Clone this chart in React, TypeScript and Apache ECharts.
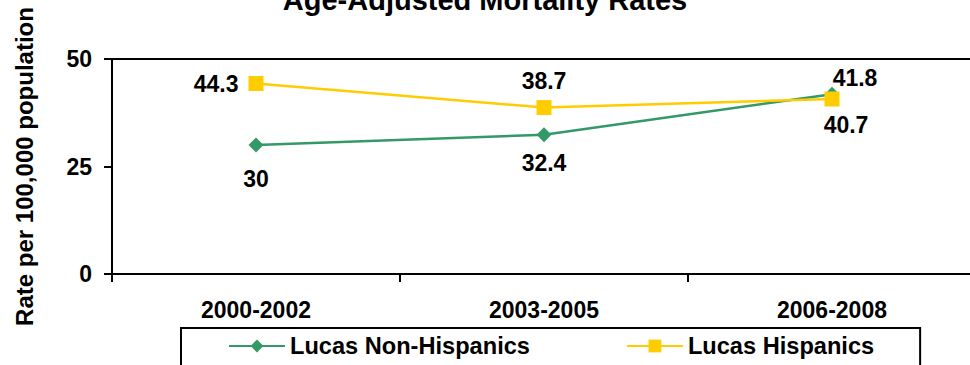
import React, { useEffect, useRef } from "react";
import * as echarts from "echarts";

const categories = ["2000-2002", "2003-2005", "2006-2008"];
const nonHispanics = [30, 32.4, 41.8];
const hispanics = [44.3, 38.7, 40.7];
const yTicks = { min: 0, max: 50, interval: 25 };

const FONT = "'Liberation Sans', Arial, sans-serif";

export default function App() {
  const ref = useRef<HTMLDivElement>(null);
  useEffect(() => {
    document.body.style.margin = "0";
    const chart = echarts.init(ref.current!, null, { renderer: "svg" });
    const labelBase = {
      show: true,
      fontFamily: FONT,
      fontWeight: "bold",
      fontSize: 23,
      color: "#000",
    };
    const nhLabels = [
      { position: "bottom", distance: 15, offset: [0, 0] },
      { position: "bottom", distance: 9, offset: [0, 0] },
      { position: "top", distance: -3, offset: [23, 0] },
    ];
    const hLabels = [
      { position: "left", distance: 10, offset: [0, 0] },
      { position: "top", distance: 8, offset: [0, 0] },
      { position: "bottom", distance: 7, offset: [14, 0] },
    ];
    chart.setOption({
      animation: false,
      textStyle: { fontFamily: FONT },
      title: {
        text: "Age-Adjusted Mortality Rates",
        left: "center",
        top: -15,
        padding: 0,
        textStyle: { fontFamily: FONT, fontWeight: "bold", fontSize: 29, color: "#000" },
      },
      grid: {
        left: 112,
        top: 59,
        right: -6,
        bottom: 91,
        show: true,
        borderColor: "#000",
        borderWidth: 2,
        outerBoundsMode: "none",
        containLabel: false,
      },
      legend: {
        left: 181,
        top: 328,
        padding: [6, 46, 12, 47],
        itemGap: 96,
        itemWidth: 56,
        itemHeight: 16,
        borderColor: "#000",
        borderWidth: 2,
        textStyle: { fontFamily: FONT, fontWeight: "bold", fontSize: 23.6, color: "#000" },
        data: ["Lucas Non-Hispanics", "Lucas Hispanics"],
      },
      xAxis: {
        type: "category",
        data: categories,
        boundaryGap: true,
        axisLine: { lineStyle: { color: "#000", width: 2 } },
        axisTick: { show: true, length: 8, lineStyle: { color: "#000", width: 2 } },
        axisLabel: { margin: 24, fontFamily: FONT, fontWeight: "bold", fontSize: 23, color: "#000" },
        splitLine: { show: false },
      },
      yAxis: {
        type: "value",
        min: yTicks.min,
        max: yTicks.max,
        interval: yTicks.interval,
        name: "Rate per 100,000 population",
        nameLocation: "middle",
        nameGap: 76,
        nameRotate: 90,
        nameTextStyle: { fontFamily: FONT, fontWeight: "bold", fontSize: 24, color: "#000" },
        axisLine: { show: true, lineStyle: { color: "#000", width: 2 } },
        axisTick: { show: true, length: 8, lineStyle: { color: "#000", width: 2 } },
        axisLabel: { margin: 20, fontFamily: FONT, fontWeight: "bold", fontSize: 23, color: "#000" },
        splitLine: { show: false },
      },
      series: [
        {
          name: "Lucas Non-Hispanics",
          type: "line",
          symbol: "diamond",
          symbolSize: 15,
          itemStyle: { color: "#339966" },
          lineStyle: { color: "#339966", width: 2.5 },
          data: nonHispanics.map((v, i) => ({ value: v, label: { ...labelBase, ...nhLabels[i] } })),
          z: 2,
        },
        {
          name: "Lucas Hispanics",
          type: "line",
          symbol: "rect",
          symbolSize: 15,
          itemStyle: { color: "#FFCC00" },
          lineStyle: { color: "#FFCC00", width: 2.5 },
          data: hispanics.map((v, i) => ({ value: v, label: { ...labelBase, ...hLabels[i] } })),
          z: 3,
        },
      ],
    });
    return () => chart.dispose();
  }, []);
  return <div ref={ref} style={{ width: 970, height: 365 }} />;
}
